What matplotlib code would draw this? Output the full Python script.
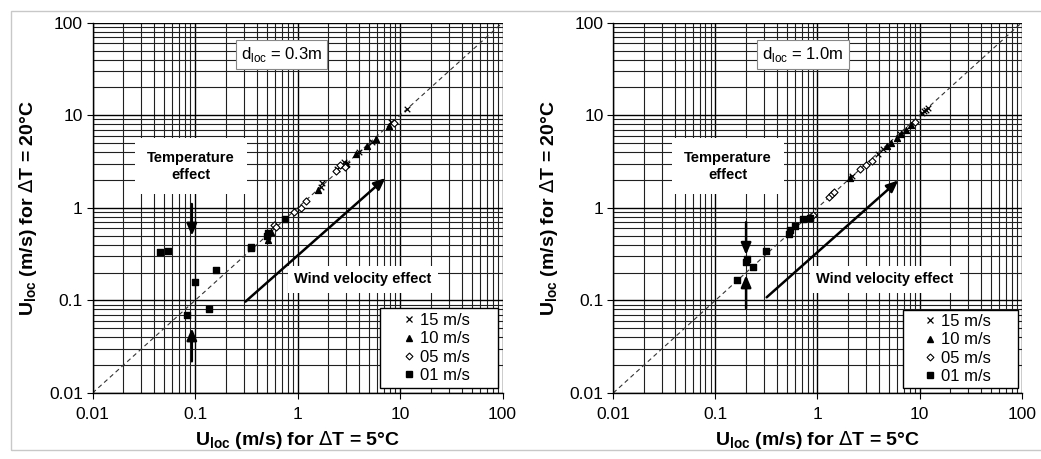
import numpy as np
import matplotlib
matplotlib.use("Agg")
import matplotlib.pyplot as plt
from matplotlib.ticker import LogLocator, FixedFormatter, NullFormatter, FixedLocator
from matplotlib.lines import Line2D
from matplotlib.patches import Rectangle

plt.rcParams['font.family'] = ['Liberation Sans', 'DejaVu Sans']

# ---------------- data: left panel (d_loc = 0.3 m) ----------------
L_x15 = [1.7, 1.75, 2.45, 2.85, 3.05, 4.0, 5.3, 8.1, 11.8]
L_y15 = [1.7, 1.85, 2.65, 3.1, 3.0, 4.0, 5.1, 8.4, 11.7]
L_x10 = [0.52, 0.55, 1.6, 3.0, 3.7, 4.8, 5.8, 7.8]
L_y10 = [0.45, 0.55, 1.55, 3.0, 3.8, 4.7, 5.6, 7.6]
L_x05 = [0.59, 0.62, 0.92, 1.07, 1.2, 2.35, 2.6, 2.9, 8.7]
L_y05 = [0.66, 0.62, 0.9, 1.0, 1.2, 2.5, 2.9, 2.75, 8.2]
L_x01 = [0.046, 0.055, 0.084, 0.10, 0.138, 0.16, 0.35, 0.35, 0.50, 0.51, 0.76]
L_y01 = [0.33, 0.345, 0.069, 0.16, 0.08, 0.215, 0.37, 0.38, 0.50, 0.53, 0.75]

# ---------------- data: right panel (d_loc = 1.0 m) ----------------
R_x15 = [2.2, 3.9, 4.4, 6.4, 10.5, 11.0, 11.5, 12.0]
R_y15 = [2.2, 3.8, 4.3, 6.2, 10.5, 11.0, 11.5, 12.0]
R_x10 = [2.1, 4.8, 5.3, 6.0, 6.6, 7.4, 8.3]
R_y10 = [2.1, 4.6, 5.0, 5.7, 6.3, 7.0, 7.8]
R_x05 = [0.91, 1.3, 1.38, 1.45, 2.6, 3.0, 3.4, 9.0]
R_y05 = [0.83, 1.3, 1.4, 1.5, 2.6, 2.9, 3.2, 8.5]
R_x01 = [0.162, 0.20, 0.205, 0.236, 0.31, 0.53, 0.54, 0.60, 0.73, 0.85]
R_y01 = [0.165, 0.26, 0.28, 0.23, 0.34, 0.52, 0.57, 0.63, 0.76, 0.78]

tick_vals = [0.01, 0.1, 1, 10, 100]
tick_labels = ["0.01", "0.1", "1", "10", "100"]
series_labels = ["15 m/s", "10 m/s", "05 m/s", "01 m/s"]

fig = plt.figure(figsize=(10.41, 4.59), dpi=100)
fig.patch.set_facecolor('white')

# light frame around the picture
fig.add_artist(Rectangle((11/1041, 9/459), 1.2, 1 - 20/459, transform=fig.transFigure,
                         fill=False, edgecolor='#c8c8c8', lw=1.0))

ax1 = fig.add_axes([0.0889, 0.1438, 0.3939, 0.8068])
ax2 = fig.add_axes([0.5891, 0.1438, 0.3923, 0.8068])

def setup(ax):
    ax.set_xscale('log')
    ax.set_yscale('log')
    ax.set_xlim(0.01, 100)
    ax.set_ylim(0.01, 100)
    for axis in (ax.xaxis, ax.yaxis):
        axis.set_major_locator(FixedLocator(tick_vals))
        axis.set_major_formatter(FixedFormatter(tick_labels))
        axis.set_minor_locator(LogLocator(base=10, subs=range(2, 10), numticks=20))
        axis.set_minor_formatter(NullFormatter())
    ax.tick_params(which='major', direction='out', length=4, width=0.8, labelsize=12.5, pad=3)
    ax.tick_params(axis='x', which='major', pad=6)
    ax.tick_params(which='minor', length=0)
    ax.grid(which='major', color='black', lw=1.0, zorder=0)
    ax.grid(which='minor', color='#202020', lw=0.8, zorder=0)
    ax.set_axisbelow(True)
    for s in ax.spines.values():
        s.set_color('black')
        s.set_linewidth(1.0)
    ax.spines['top'].set_visible(False)
    ax.spines['right'].set_visible(False)
    ax.plot([0.01, 100], [0.01, 100], ls=(0, (4, 3)), color='#333333', lw=0.8, zorder=2)
    ax.set_xlabel(r"U$_{\mathregular{loc}}$ (m/s) for $\Delta$T = 5°C", fontsize=14,
                  fontweight='bold', labelpad=5)
    ax.set_ylabel(r"U$_{\mathregular{loc}}$ (m/s) for $\Delta$T = 20°C", fontsize=14,
                  fontweight='bold', labelpad=7)

def draw(ax, x15, y15, x10, y10, x05, y05, x01, y01, legbox):
    ax.scatter(x15, y15, marker='x', s=16, color='black', lw=0.9, zorder=4)
    ax.scatter(x10, y10, marker='^', s=18, color='black', zorder=4)
    ax.scatter(x05, y05, marker='D', s=13, facecolors='white', edgecolors='black', lw=0.8, zorder=4)
    ax.scatter(x01, y01, marker='s', s=22, color='black', zorder=4)
    handles = [
        Line2D([], [], ls='none', marker='x', ms=4, mew=0.9, color='black'),
        Line2D([], [], ls='none', marker='^', ms=4.5, color='black'),
        Line2D([], [], ls='none', marker='D', ms=3.5, mfc='white', mec='black', mew=0.8),
        Line2D([], [], ls='none', marker='s', ms=4.5, color='black'),
    ]
    x0, y0, x1, y1 = legbox
    ax.add_patch(Rectangle((x0, y0), x1 - x0, y1 - y0, transform=ax.transAxes,
                           facecolor='white', edgecolor='black', lw=1.0, zorder=5))
    leg = ax.legend(handles, series_labels, loc='center',
                    bbox_to_anchor=((x0 + x1) / 2 - 0.005, (y0 + y1) / 2),
                    borderaxespad=0, fontsize=12, frameon=False,
                    handlelength=0.6, handletextpad=0.35, labelspacing=0.2,
                    borderpad=0.3)
    leg.set_zorder(6)

setup(ax1)
setup(ax2)
draw(ax1, L_x15, L_y15, L_x10, L_y10, L_x05, L_y05, L_x01, L_y01, (0.70, 0.013, 0.989, 0.230))
draw(ax2, R_x15, R_y15, R_x10, R_y10, R_x05, R_y05, R_x01, R_y01, (0.709, 0.013, 0.991, 0.224))

arrow_kw = dict(arrowstyle='-|>,head_length=0.7,head_width=0.3', color='black', lw=1.8,
                shrinkA=0, shrinkB=0)

def annotate(ax, dtxt, dpos, tpos, wpos, down, up, wind):
    ax.text(dpos[0], dpos[1], dtxt, fontsize=12, ha='center', va='center', zorder=5,
            bbox=dict(boxstyle='square,pad=0.3', fc='white', ec='#888888', lw=0.8))
    ax.text(tpos[0], tpos[1], "Temperature\neffect", fontsize=10.5, fontweight='bold',
            ha='center', va='center', zorder=5, linespacing=1.3,
            bbox=dict(boxstyle='square,pad=0.85', fc='white', ec='none'))
    ax.text(wpos[0], wpos[1], "Wind velocity effect", fontsize=10.5, fontweight='bold',
            ha='center', va='center', zorder=5,
            bbox=dict(boxstyle='square,pad=0.45', fc='white', ec='none'))
    ax.annotate("", xy=down[1], xytext=down[0], arrowprops=arrow_kw, zorder=5)
    ax.annotate("", xy=up[1], xytext=up[0], arrowprops=arrow_kw, zorder=5)
    ax.annotate("", xy=wind[1], xytext=wind[0], arrowprops=arrow_kw, zorder=5)

annotate(ax1, r"d$_{\mathregular{loc}}$ = 0.3m", (0.70, 45), (0.0914, 2.8), (4.35, 0.17),
         ((0.093, 1.1), (0.093, 0.5)), ((0.093, 0.022), (0.093, 0.05)),
         ((0.31, 0.097), (7.2, 2.1)))
annotate(ax2, r"d$_{\mathregular{loc}}$ = 1.0m", (0.72, 45), (0.133, 2.8), (4.58, 0.17),
         ((0.2, 0.70), (0.2, 0.31)), ((0.2, 0.082), (0.2, 0.187)),
         ((0.318, 0.108), (6.2, 1.98)))

fig.savefig("out.png", dpi=100, facecolor='white')
